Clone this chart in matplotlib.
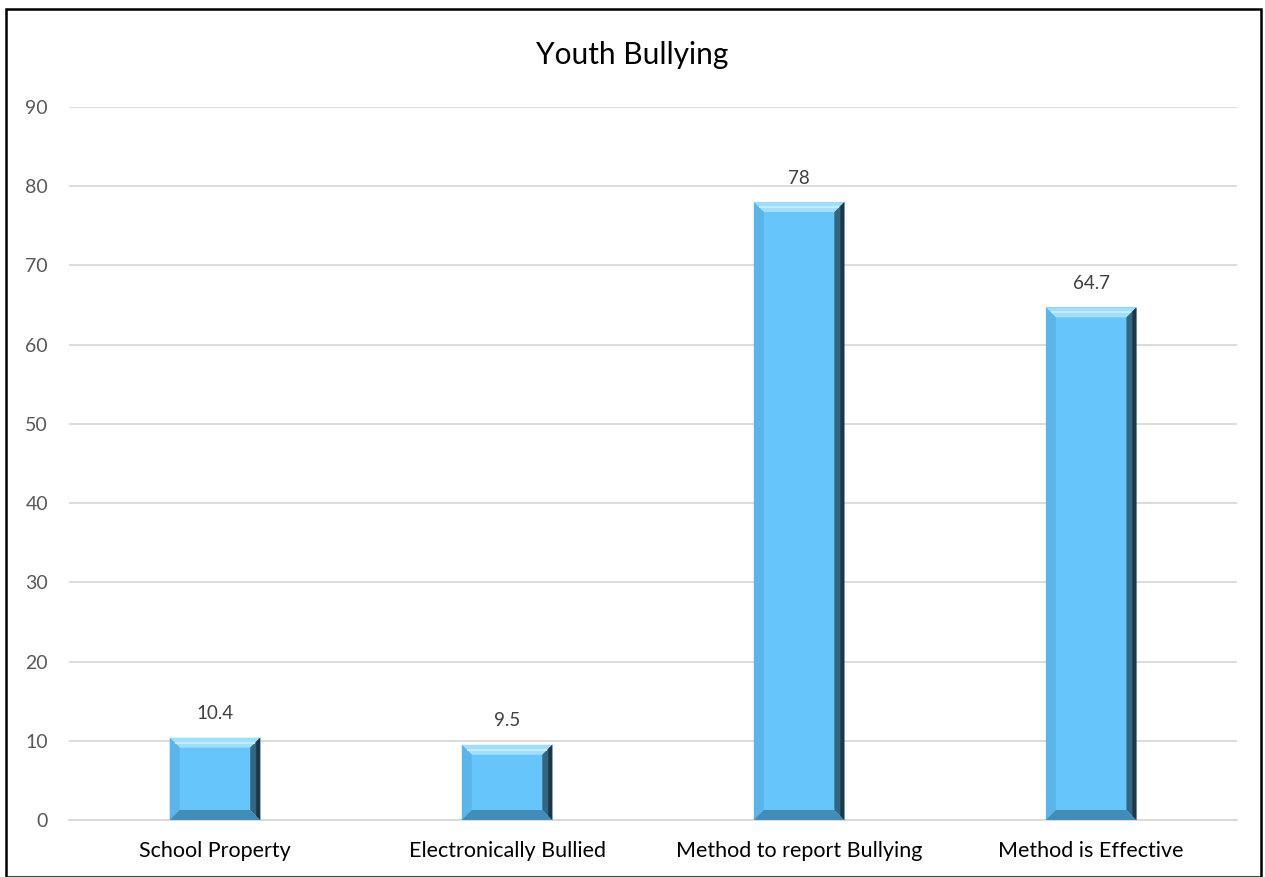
import matplotlib.pyplot as plt
from matplotlib.patches import Polygon

categories = ["School Property", "Electronically Bullied", "Method to report Bullying", "Method is Effective"]
values = [10.4, 9.5, 78, 64.7]
value_labels = ["10.4", "9.5", "78", "64.7"]
yticks = [0, 10, 20, 30, 40, 50, 60, 70, 80, 90]

plt.rcParams['font.family'] = ['Lato', 'DejaVu Sans']

fig = plt.figure(figsize=(12.65, 8.77), dpi=100)
ax = fig.add_axes([0.0545, 0.065, 0.9235, 0.813])

face = "#66C6FB"
bars = ax.bar(range(len(values)), values, width=0.31, color=face, zorder=3)
ax.set_xlim(-0.5, len(values) - 0.5)
ax.set_ylim(0, 90)

# bevel edges, sized in pixels then mapped back to data coords
b = 10
inv = ax.transData.inverted()
for bar in bars:
    x0, y0 = bar.get_x(), bar.get_y()
    x1, y1 = x0 + bar.get_width(), y0 + bar.get_height()
    (px0, py0), (px1, py1) = ax.transData.transform([(x0, y0), (x1, y1)])
    outer = [(px0, py0), (px1, py0), (px1, py1), (px0, py1)]
    inner = [(px0 + b, py0 + b), (px1 - b, py0 + b), (px1 - b, py1 - b), (px0 + b, py1 - b)]
    sides = [
        ([outer[3], outer[2], inner[2], inner[3]], "#A0DEFC"),  # top
        ([outer[0], outer[3], inner[3], inner[0]], "#5BB5E8"),  # left
        ([outer[1], outer[2], inner[2], inner[1]], "#336680"),  # right
        ([outer[0], outer[1], inner[1], inner[0]], "#428CB8"),  # bottom
    ]
    for pts, c in sides:
        ax.add_patch(Polygon(inv.transform(pts), closed=True, color=c, lw=0, zorder=4))
    # darker strip on outer right edge
    strip = [outer[1], outer[2], (px1 - 4, py1 - 4), (px1 - 4, py0 + 4)]
    ax.add_patch(Polygon(inv.transform(strip), closed=True, color="#1E3747", lw=0, zorder=5))
    # soft highlight line inside the top bevel
    hl = [(px0 + b / 2, py1 - b / 2 - 1), (px1 - b / 2, py1 - b / 2 - 1),
          (px1 - b / 2, py1 - b / 2 + 1), (px0 + b / 2, py1 - b / 2 + 1)]
    ax.add_patch(Polygon(inv.transform(hl), closed=True, color="#C2ECFD", lw=0, zorder=5))

for i, v in enumerate(values):
    ax.annotate(value_labels[i], (i, v), xytext=(0, 11), textcoords="offset points",
                ha="center", va="bottom", fontsize=13.5, color="#404040")

ax.set_xticks(range(len(categories)))
ax.set_xticklabels(categories, fontsize=15.5, color="#000000")
ax.set_yticks(yticks)
ax.tick_params(axis="y", labelsize=14, labelcolor="#595959", length=0, pad=15)
ax.tick_params(axis="x", length=0, pad=15)
ax.yaxis.grid(True, color="#D9D9D9", lw=1.3, zorder=0)
for s in ["top", "right", "left"]:
    ax.spines[s].set_visible(False)
ax.spines["bottom"].set_color("#D9D9D9")
ax.spines["bottom"].set_linewidth(1.3)

fig.text(0.5, 0.937, "Youth Bullying", ha="center", va="center", fontsize=21.5, color="#000000")

# outer chart border
fig.add_artist(plt.Rectangle((0.005, 0.0), 0.992, 0.99, transform=fig.transFigure,
                             fill=False, edgecolor="black", lw=1.8))

fig.savefig("out.png", dpi=100)
